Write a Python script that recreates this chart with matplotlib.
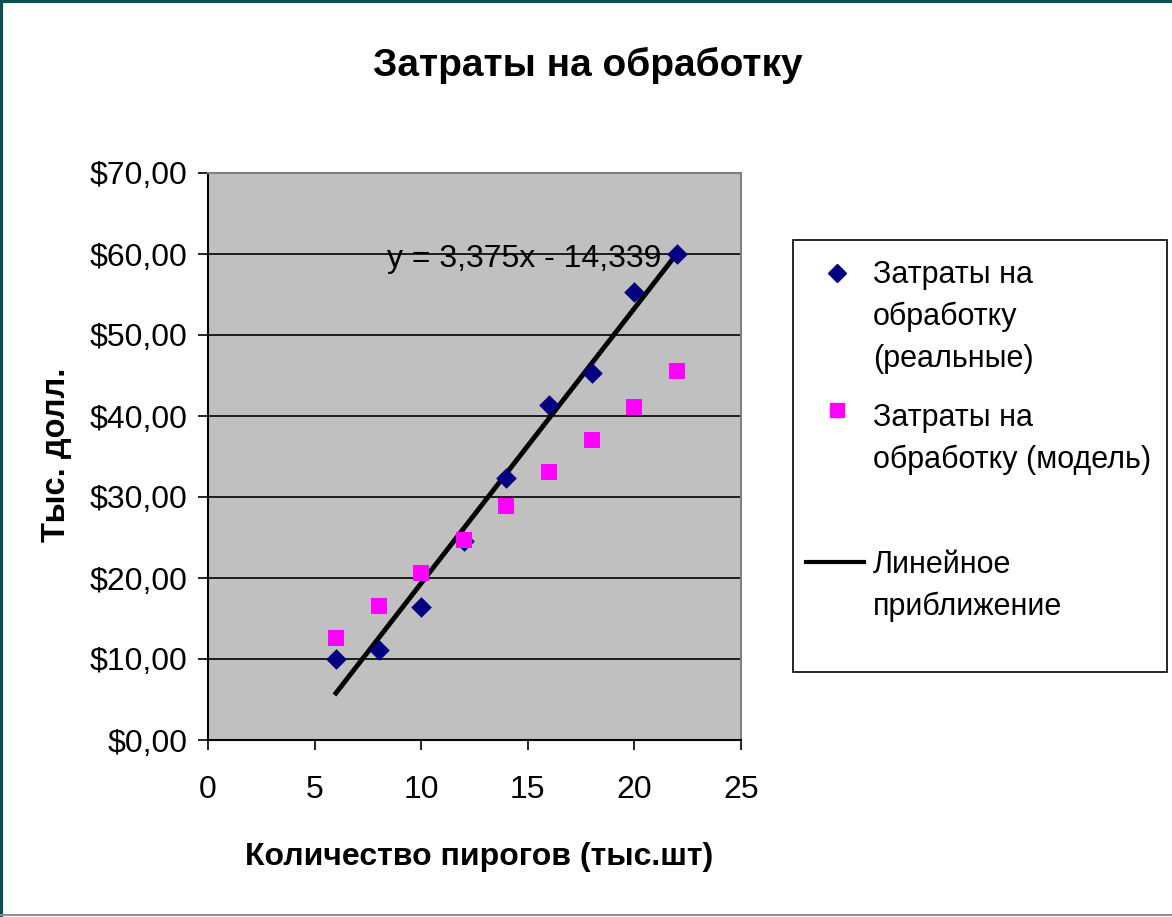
import numpy as np
import matplotlib
matplotlib.use("Agg")
import matplotlib.pyplot as plt
from matplotlib.lines import Line2D
from matplotlib.patches import Rectangle

plt.rcParams['font.family'] = ['Liberation Sans', 'DejaVu Sans']

# data
pies = [6, 8, 10, 12, 14, 16, 18, 20, 22]            # тыс. шт
cost_real = [10.0, 11.1, 16.4, 24.6, 32.3, 41.4, 45.3, 55.3, 60.0]
cost_model = [12.6, 16.5, 20.6, 24.7, 28.9, 33.1, 37.0, 41.1, 45.6]
y_ticks = [0, 10, 20, 30, 40, 50, 60, 70]
x_ticks = [0, 5, 10, 15, 20, 25]
trend_text = "y = 3,375x - 14,339"

title = "Затраты на обработку"
x_title = "Количество пирогов (тыс.шт)"
y_title = "Тыс. долл."
legend_labels = ["Затраты на\nобработку\n(реальные)",
                 "Затраты на\nобработку (модель)",
                 "Линейное\nприближение"]

W, H = 1172, 917
fig = plt.figure(figsize=(W / 100, H / 100), dpi=100)
fig.patch.set_facecolor("white")


def fx(px):
    return px / W


def fy(py):
    return 1 - py / H


ax = fig.add_axes([fx(208), fy(740), fx(741) - fx(208), fy(173) - fy(740)])
ax.set_facecolor("#c0c0c0")

# linear fit of the real costs
k, b = np.polyfit(pies, cost_real, 1)
xs = np.array([pies[0], pies[-1]])
ax.plot(xs, k * xs + b, color="black", lw=3.5, zorder=3)

ax.scatter(pies, cost_real, marker="D", s=10.5 ** 2, color="#000080", zorder=4, linewidths=0)
ax.scatter(pies, cost_model, marker="s", s=11.5 ** 2, color="#ff00ff", zorder=4, linewidths=0)

ax.set_xlim(0, 25)
ax.set_ylim(0, 70)
ax.set_xticks(x_ticks)
ax.set_yticks(y_ticks)
ax.set_yticklabels([f"${v:.2f}".replace(".", ",") for v in y_ticks])
ax.grid(axis="y", color="black", lw=1.2)
ax.set_axisbelow(True)

ax.tick_params(axis="both", direction="out", length=7, width=1.2, colors="black", labelsize=23)
ax.tick_params(axis="x", pad=18)
ax.tick_params(axis="y", pad=8)
for s in ["left", "bottom"]:
    ax.spines[s].set_color("black")
    ax.spines[s].set_linewidth(1.5)
for s in ["top", "right"]:
    ax.spines[s].set_color("#808080")
    ax.spines[s].set_linewidth(1.5)

ax.text(21.25, 59.4, trend_text, ha="right", va="center", fontsize=23, zorder=5)

fig.text(fx(588), fy(65), title, ha="center", va="center", fontsize=28, fontweight="bold")
fig.text(fx(479), fy(857), x_title, ha="center", va="center", fontsize=23, fontweight="bold")
fig.text(fx(57), fy(455), y_title, ha="center", va="center", fontsize=23.5,
         fontweight="bold", rotation=90)

# legend box drawn by hand (Excel style)
fig.patches.append(Rectangle((fx(793), fy(672)), fx(1167) - fx(793), fy(240) - fy(672),
                             transform=fig.transFigure, facecolor="white",
                             edgecolor="black", lw=1.2))
text_x = fx(873)
fig.add_artist(Line2D([fx(837)], [fy(273)], marker="D", ms=9, color="#000080",
                      transform=fig.transFigure, lw=0))
fig.add_artist(Line2D([fx(837)], [fy(410)], marker="s", ms=10, color="#ff00ff",
                      transform=fig.transFigure, lw=0))
fig.add_artist(Line2D([fx(806), fx(864)], [fy(562), fy(562)], color="black", lw=3,
                      transform=fig.transFigure))
# baseline of the last line of each entry
for label, base in zip(legend_labels, [367, 468, 615]):
    fig.text(text_x, fy(base), label, ha="left", va="baseline", fontsize=22,
             linespacing=1.5)

# window frame
fig.add_artist(Line2D([0, 1], [fy(1), fy(1)], color="#0b4f4f", lw=3, transform=fig.transFigure))
fig.add_artist(Line2D([fx(1), fx(1)], [0, 1], color="#0b4f4f", lw=3, transform=fig.transFigure))
fig.add_artist(Line2D([0, 1], [fy(915), fy(915)], color="#909090", lw=1.5, transform=fig.transFigure))

fig.savefig("out.png", dpi=100)
